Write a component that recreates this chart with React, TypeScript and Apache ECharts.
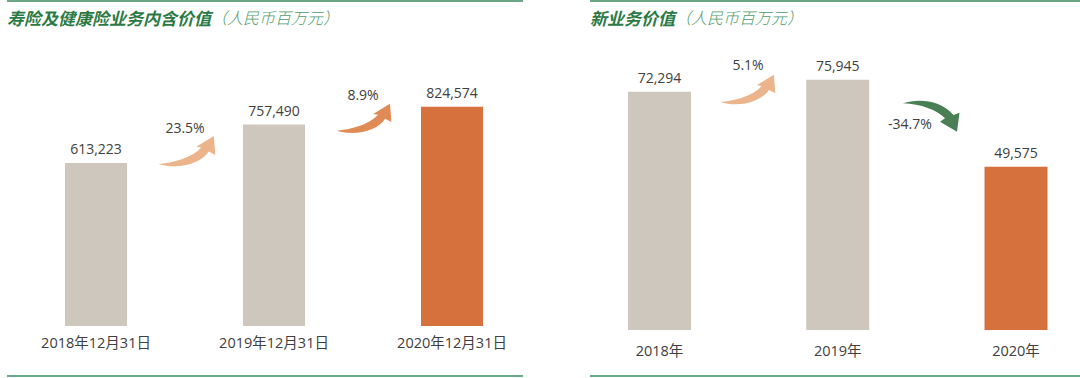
import React, { useEffect, useRef } from "react";
import * as echarts from "echarts";

const leftCategories = ["2018年12月31日", "2019年12月31日", "2020年12月31日"];
const leftValues = [613223, 757490, 824574];
const rightCategories = ["2018年", "2019年", "2020年"];
const rightValues = [72294, 75945, 49575];
const leftGrowth = ["23.5%", "8.9%"];
const rightGrowth = ["5.1%", "-34.7%"];
const leftTitle = ["寿险及健康险业务内含价值", "（人民币百万元）"];
const rightTitle = ["新业务价值", "（人民币百万元）"];

const GREY = "#CEC7BD";
const ORANGE = "#D6703D";
const LIGHT_ARROW = "#ECB48A";
const DARK_ARROW = "#E08A55";
const GREEN_ARROW = "#4A7F55";
const LINE = "#6AA888";
const TEXT = "#404040";
const FONT = "'Open Sans', 'Noto Sans CJK SC', sans-serif";

let registered = false;
function registerShapes() {
  if (registered) return;
  registered = true;
  echarts.graphic.registerShape(
    "arrowUp",
    echarts.graphic.extendPath(
      "M 0 30 C 14 29 34 24 43 13.5 L 38 12.7 L 55.5 2 L 57 21 L 50.5 17.5 C 42 30 20 36 0 30 Z",
      {}
    )
  );
  echarts.graphic.registerShape(
    "arrowDown",
    echarts.graphic.extendPath(
      "M 0 3.3 C 15 -2 38 0 50.5 15 L 56.5 12.7 L 54 31.7 L 37 21.7 L 42 18.3 C 34 10 18 4 0 3.3 Z",
      {}
    )
  );
}

export default function App() {
  const ref = useRef<HTMLDivElement>(null);
  useEffect(() => {
    document.body.style.margin = "0";
    registerShapes();
    const chart = echarts.init(ref.current!, null, { renderer: "svg" });
    const colorFor = (i: number, n: number) => (i === n - 1 ? ORANGE : GREY);
    const labelStyle = { show: true, position: "top", color: TEXT, fontSize: 14, fontFamily: FONT, distance: 7 };
    const growthText = (x: number, y: number, text: string) => ({
      type: "text",
      x,
      y,
      style: { text, fill: TEXT, fontSize: 14, fontFamily: FONT, align: "center", verticalAlign: "middle" },
    });
    const titleText = (x: number, parts: string[]) => ({
      type: "text",
      x,
      y: 17,
      style: {
        text: `{b|${parts[0]}}{l|${parts[1]}}`,
        verticalAlign: "middle",
        rich: {
          b: { fontSize: 17, fontWeight: "bold", fontStyle: "italic", fill: "#2B7A45", fontFamily: "'Noto Sans CJK SC', sans-serif" },
          l: { fontSize: 16, fontWeight: 300, fontStyle: "italic", fill: "#4E9A6C", fontFamily: "'Noto Sans CJK SC', sans-serif" },
        },
      },
    });
    chart.setOption({
      animation: false,
      grid: [
        { left: 7, width: 534, top: 60, height: 266 },
        { left: 659.5, width: 356.5, top: 33.5, height: 296.5 },
      ],
      xAxis: [
        {
          gridIndex: 0,
          type: "category",
          data: leftCategories,
          axisLine: { show: false },
          axisTick: { show: false },
          axisLabel: { color: TEXT, fontSize: 14.5, fontFamily: FONT, margin: 9 },
        },
        {
          gridIndex: 1,
          type: "category",
          boundaryGap: false,
          data: rightCategories,
          axisLine: { show: false },
          axisTick: { show: false },
          axisLabel: { color: TEXT, fontSize: 14.5, fontFamily: FONT, margin: 13 },
        },
      ],
      yAxis: [
        { gridIndex: 0, type: "value", min: 0, max: 1000000, show: false, splitLine: { show: false } },
        { gridIndex: 1, type: "value", min: 0, max: 90000, show: false, splitLine: { show: false } },
      ],
      series: [
        {
          type: "bar",
          xAxisIndex: 0,
          yAxisIndex: 0,
          barWidth: 62,
          data: leftValues.map((v, i) => ({ value: v, itemStyle: { color: colorFor(i, leftValues.length) } })),
          label: { ...labelStyle, formatter: (p: any) => Number(p.value).toLocaleString("en-US") },
        },
        {
          type: "bar",
          xAxisIndex: 1,
          yAxisIndex: 1,
          barWidth: 63,
          data: rightValues.map((v, i) => ({ value: v, itemStyle: { color: colorFor(i, rightValues.length) } })),
          label: { ...labelStyle, formatter: (p: any) => Number(p.value).toLocaleString("en-US") },
        },
      ],
      graphic: [
        { type: "line", shape: { x1: 7, y1: 1, x2: 523, y2: 1 }, style: { stroke: LINE, lineWidth: 2 } },
        { type: "line", shape: { x1: 7, y1: 376, x2: 523, y2: 376 }, style: { stroke: LINE, lineWidth: 2 } },
        { type: "line", shape: { x1: 590, y1: 1, x2: 1080, y2: 1 }, style: { stroke: LINE, lineWidth: 2 } },
        { type: "line", shape: { x1: 590, y1: 376, x2: 1080, y2: 376 }, style: { stroke: LINE, lineWidth: 2 } },
        titleText(7, leftTitle),
        titleText(590, rightTitle),
        { type: "arrowUp", x: 158.3, y: 134, style: { fill: LIGHT_ARROW } },
        { type: "arrowUp", x: 336.7, y: 101.9, scaleX: 0.96, scaleY: 0.96, style: { fill: DARK_ARROW } },
        { type: "arrowUp", x: 720, y: 72.9, scaleX: 0.97, scaleY: 0.97, style: { fill: LIGHT_ARROW } },
        { type: "arrowDown", x: 903, y: 100, style: { fill: GREEN_ARROW } },
        growthText(185, 127, leftGrowth[0]),
        growthText(363, 94, leftGrowth[1]),
        growthText(748, 64, rightGrowth[0]),
        growthText(910, 123, rightGrowth[1]),
      ],
    });
    return () => chart.dispose();
  }, []);
  return <div ref={ref} style={{ width: 1080, height: 378 }} />;
}
